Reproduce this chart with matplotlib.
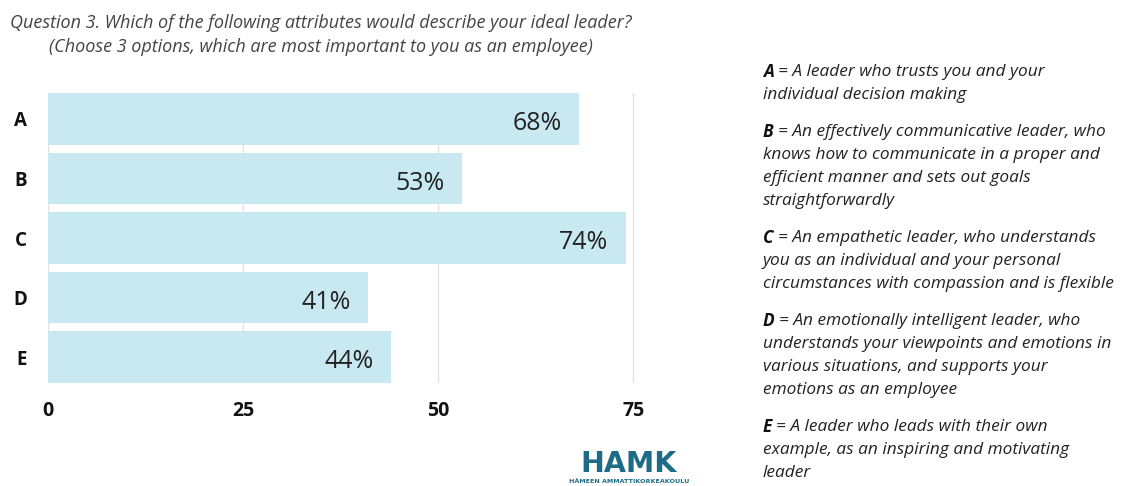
import matplotlib
matplotlib.use("Agg")
import matplotlib.pyplot as plt

plt.rcParams['font.family'] = ['Open Sans', 'DejaVu Sans']

# survey results
labels = ['A', 'B', 'C', 'D', 'E']
values = [68, 53, 74, 41, 44]
xticks = [0, 25, 50, 75]

title = ("Question 3. Which of the following attributes would describe your ideal leader?\n"
         "(Choose 3 options, which are most important to you as an employee)")

# explanation of each option, already broken into lines
descriptions = [
    ["= A leader who trusts you and your", "individual decision making"],
    ["= An effectively communicative leader, who", "knows how to communicate in a proper and",
     "efficient manner and sets out goals", "straightforwardly"],
    ["= An empathetic leader, who understands", "you as an individual and your personal",
     "circumstances with compassion and is flexible"],
    ["= An emotionally intelligent leader, who", "understands your viewpoints and emotions in",
     "various situations, and supports your", "emotions as an employee"],
    ["= A leader who leads with their own", "example, as an inspiring and motivating", "leader"],
]

W, H = 1121, 486
fig = plt.figure(figsize=(W / 100, H / 100), dpi=100)

ax = fig.add_axes([48 / W, 1 - 383 / H, (638 - 48) / W, (383 - 93) / H])
ypos = list(range(len(labels)))
ax.barh(ypos, values, height=0.87, color='#c8e9f2', zorder=2)
ax.set_xlim(0, 75.6)
ax.set_ylim(len(labels) - 0.565, -0.435)

for y, v in zip(ypos, values):
    ax.text(v - 2.2, y + 0.08, f"{v}%", ha='right', va='center',
            fontsize=18, color='#222222', zorder=3)

ax.set_xticks(xticks)
ax.set_xticklabels([str(t) for t in xticks], fontsize=14, fontweight='bold', color='#111111')
ax.set_yticks(ypos)
ax.set_yticklabels(labels, fontsize=13.5, fontweight='bold', color='#111111')
ax.tick_params(length=0)
ax.tick_params(axis='x', pad=13)
ax.tick_params(axis='y', pad=15)
ax.grid(axis='x', color='#e3e3e3', linewidth=1, zorder=0)
for s in ax.spines.values():
    s.set_visible(False)

fig.text(321 / W, 1 - 35 / H, title, ha='center', va='center', style='italic',
         fontsize=13, color='#444444', linespacing=1.5)

# option descriptions on the right
fig.canvas.draw()
renderer = fig.canvas.get_renderer()
x0 = 763
y = 72
line_h = 23
for letter, lines in zip(labels, descriptions):
    t = fig.text(x0 / W, 1 - y / H, letter, ha='left', va='center', style='italic',
                 fontweight='bold', fontsize=12.4, color='#111111')
    w = t.get_window_extent(renderer).width
    fig.text((x0 + w + 4) / W, 1 - y / H, lines[0], ha='left', va='center', style='italic',
             fontsize=12.4, color='#222222')
    for i, line in enumerate(lines[1:], start=1):
        fig.text(x0 / W, 1 - (y + i * line_h) / H, line, ha='left', va='center',
                 style='italic', fontsize=12.4, color='#222222')
    y += len(lines) * line_h + 14

# HAMK logo
fig.text(629 / W, 1 - 464 / H, "HAMK", ha='center', va='center', fontsize=20.5,
         fontweight='heavy', color='#1d6b87', family='DejaVu Sans')
fig.text(629 / W, 1 - 481.5 / H, "HÄMEEN AMMATTIKORKEAKOULU", ha='center', va='center',
         fontsize=4.6, fontweight='bold', color='#1d6b87', family='DejaVu Sans')

fig.savefig("out.png", dpi=100, facecolor='white')
